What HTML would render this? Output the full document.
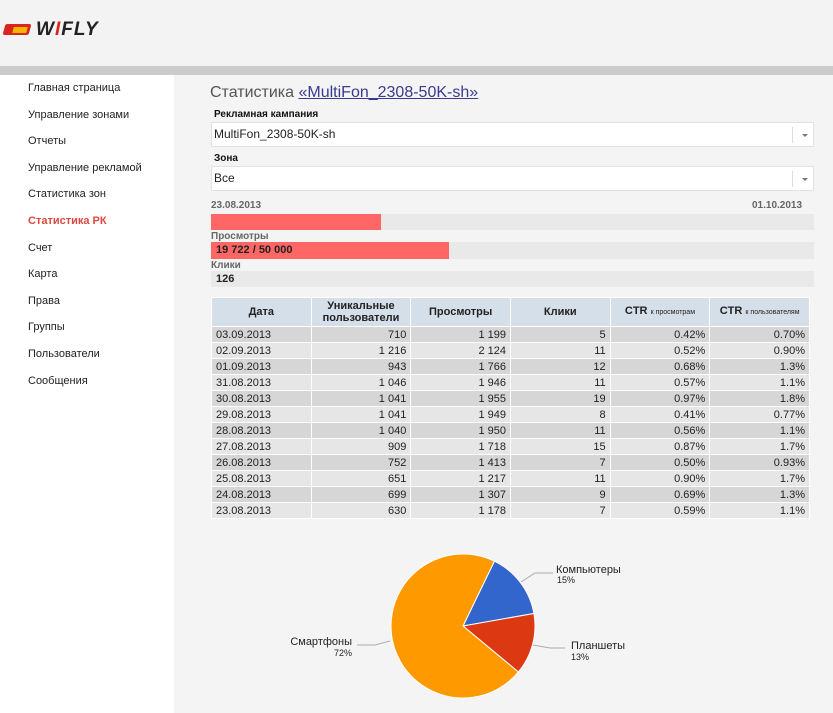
<!DOCTYPE html>
<html><head><meta charset="utf-8"><style>
*{margin:0;padding:0;box-sizing:border-box}
body{width:833px;height:713px;overflow:hidden;background:#f4f4f4;font-family:"Liberation Sans","DejaVu Sans",sans-serif;font-size:11px;color:#222;position:relative}
.a{position:absolute}
.menu div{position:absolute;left:28px;font-size:11px;color:#222;white-space:nowrap}
table{border-collapse:collapse;position:absolute;left:211px;top:297px;width:599px;table-layout:fixed}
td,th{border:1px solid #fff;font-size:11px;height:16px;padding:0 4px;text-align:right;line-height:14px}
th{background:#d5dfe9;height:29px;text-align:center;font-weight:bold;font-size:11px;line-height:12px}
td:first-child{text-align:left}
tr:nth-child(odd) td{background:#e6e6e6}
tr:nth-child(even) td{background:#d6d6d6}
small{font-size:7px;font-weight:normal}
.sel{position:absolute;left:211px;width:603px;height:25px;background:#fff;border:1px solid #e2e2e2;font-size:12px;line-height:23px;padding-left:2px}
.sel:after{content:"";position:absolute;right:5px;top:11px;border:3px solid transparent;border-top:3px solid #777}
.sel i{position:absolute;right:20px;top:4px;height:16px;border-left:1px solid #ddd}
.lb{position:absolute;left:214px;font-weight:bold;font-size:10px;color:#111}
</style></head><body>
<div class="a" style="left:0;top:0;width:833px;height:66px;background:#f3f3f3"></div>
<div class="a" style="left:0;top:66px;width:833px;height:9px;background:#cbcbcb"></div>
<div class="a" style="left:0;top:75px;width:174px;height:638px;background:#fff"></div>
<div class="a" style="left:4px;top:24px;width:26px;height:11px;background:#d9261c;transform:skewX(-15deg);border-radius:2px"></div>
<div class="a" style="left:13px;top:27px;width:14px;height:6px;background:#f5b400;transform:skewX(-15deg)"></div>
<div class="a" style="left:36px;top:19px;font-size:19px;font-weight:bold;font-style:italic;color:#222;letter-spacing:1px">W<span style="color:#d9261c">I</span>FLY</div>
<div class="menu">
<div style="top:82px">Главная страница</div>
<div style="top:109px">Управление зонами</div>
<div style="top:135px">Отчеты</div>
<div style="top:162px">Управление рекламой</div>
<div style="top:188px">Статистика зон</div>
<div style="top:215px;color:#d9493e;font-weight:bold">Статистика РК</div>
<div style="top:242px">Счет</div>
<div style="top:268px">Карта</div>
<div style="top:295px">Права</div>
<div style="top:321px">Группы</div>
<div style="top:348px">Пользователи</div>
<div style="top:375px">Сообщения</div>
</div>
<div class="a" style="left:210px;top:84px;font-size:16px;color:#555">Статистика <span style="color:#3a3a8e;text-decoration:underline">«MultiFon_2308-50K-sh»</span></div>
<div class="lb" style="top:109px">Рекламная кампания</div>
<div class="sel" style="top:122px">MultiFon_2308-50K-sh<i></i></div>
<div class="lb" style="top:153px">Зона</div>
<div class="sel" style="top:166px">Все<i></i></div>
<div class="a" style="left:211px;top:200px;font-size:10px;font-weight:bold;color:#666">23.08.2013</div>
<div class="a" style="left:752px;top:200px;font-size:10px;font-weight:bold;color:#666">01.10.2013</div>
<div class="a" style="left:211px;top:214px;width:603px;height:16px;background:#e9e9e9"></div>
<div class="a" style="left:211px;top:214px;width:170px;height:16px;background:#ff6666"></div>
<div class="a" style="left:211px;top:231px;font-size:10px;font-weight:bold;color:#666">Просмотры</div>
<div class="a" style="left:211px;top:242px;width:603px;height:17px;background:#e9e9e9"></div>
<div class="a" style="left:211px;top:242px;width:238px;height:17px;background:#ff6666;font-size:11px;font-weight:bold;line-height:17px;padding-left:5px">19 722 / 50 000</div>
<div class="a" style="left:211px;top:260px;font-size:10px;font-weight:bold;color:#666">Клики</div>
<div class="a" style="left:211px;top:271px;width:603px;height:16px;background:#e9e9e9;font-size:11px;font-weight:bold;line-height:16px;padding-left:5px">126</div>
<table>
<tr><th>Дата</th><th>Уникальные пользователи</th><th>Просмотры</th><th>Клики</th><th>CTR <small>к просмотрам</small></th><th>CTR <small>к пользователям</small></th></tr>
<tr><td>03.09.2013</td><td>710</td><td>1 199</td><td>5</td><td>0.42%</td><td>0.70%</td></tr>
<tr><td>02.09.2013</td><td>1 216</td><td>2 124</td><td>11</td><td>0.52%</td><td>0.90%</td></tr>
<tr><td>01.09.2013</td><td>943</td><td>1 766</td><td>12</td><td>0.68%</td><td>1.3%</td></tr>
<tr><td>31.08.2013</td><td>1 046</td><td>1 946</td><td>11</td><td>0.57%</td><td>1.1%</td></tr>
<tr><td>30.08.2013</td><td>1 041</td><td>1 955</td><td>19</td><td>0.97%</td><td>1.8%</td></tr>
<tr><td>29.08.2013</td><td>1 041</td><td>1 949</td><td>8</td><td>0.41%</td><td>0.77%</td></tr>
<tr><td>28.08.2013</td><td>1 040</td><td>1 950</td><td>11</td><td>0.56%</td><td>1.1%</td></tr>
<tr><td>27.08.2013</td><td>909</td><td>1 718</td><td>15</td><td>0.87%</td><td>1.7%</td></tr>
<tr><td>26.08.2013</td><td>752</td><td>1 413</td><td>7</td><td>0.50%</td><td>0.93%</td></tr>
<tr><td>25.08.2013</td><td>651</td><td>1 217</td><td>11</td><td>0.90%</td><td>1.7%</td></tr>
<tr><td>24.08.2013</td><td>699</td><td>1 307</td><td>9</td><td>0.69%</td><td>1.3%</td></tr>
<tr><td>23.08.2013</td><td>630</td><td>1 178</td><td>7</td><td>0.59%</td><td>1.1%</td></tr>
</table>
<svg class="a" style="left:0;top:0" width="833" height="713">
<path d="M463 626 L494.4 561.2 A72 72 0 0 1 533.9 613.5 Z" fill="#3366cc" stroke="#fff" stroke-width="1"/>
<path d="M463 626 L533.9 613.5 A72 72 0 0 1 518.4 672 Z" fill="#dc3912" stroke="#fff" stroke-width="1"/>
<path d="M463 626 L518.4 672 A72 72 0 1 1 494.4 561.2 Z" fill="#ff9900" stroke="#fff" stroke-width="1"/>
<polyline points="521,582 535,573 553,573" fill="none" stroke="#aaa"/>
<polyline points="533,645 550,648 565,648" fill="none" stroke="#aaa"/>
<polyline points="390,641 375,645 357,645" fill="none" stroke="#aaa"/>
<g font-family="Liberation Sans,sans-serif" fill="#222">
<text x="556" y="573" font-size="11">Компьютеры</text><text x="557" y="583" font-size="9">15%</text>
<text x="571" y="649" font-size="11">Планшеты</text><text x="571" y="660" font-size="9">13%</text>
<text x="352" y="645" font-size="11" text-anchor="end">Смартфоны</text><text x="352" y="656" font-size="9" text-anchor="end">72%</text>
</g>
</svg>
</body></html>
